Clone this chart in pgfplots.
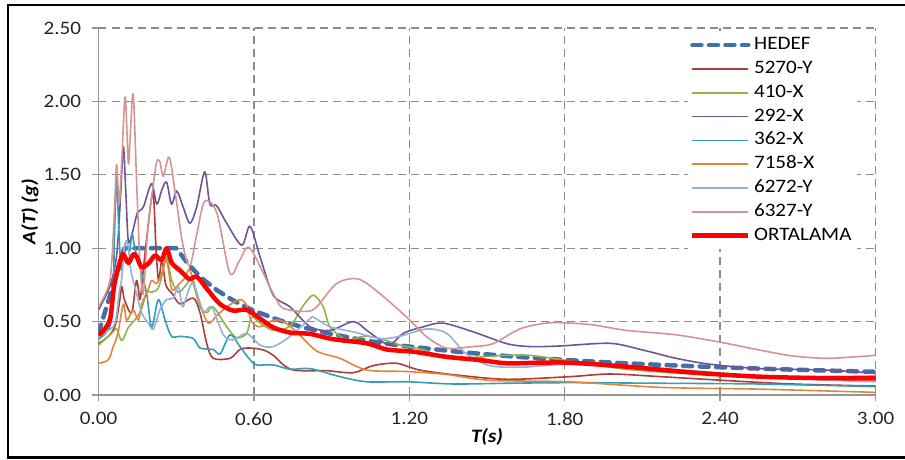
\documentclass[border=0pt]{standalone}
\usepackage{fontspec}
\setmainfont{Carlito}[FakeStretch=1.11]
\usepackage{pgfplots}
\pgfplotsset{compat=1.18}

\definecolor{gridgray}{RGB}{140,140,140}
\definecolor{axgray}{RGB}{150,150,150}
\definecolor{cHedef}{RGB}{68,112,168}
\definecolor{cA}{RGB}{172,62,58}
\definecolor{cB}{RGB}{140,182,72}
\definecolor{cC}{RGB}{112,84,150}
\definecolor{cD}{RGB}{52,158,182}
\definecolor{cE}{RGB}{228,132,56}
\definecolor{cF}{RGB}{150,176,216}
\definecolor{cG}{RGB}{212,148,148}

\newcommand{\fs}{\fontsize{19}{20}\selectfont}

\begin{document}
\begin{tikzpicture}
\useasboundingbox (0pt,0pt) rectangle (905pt,459pt);
\draw[line width=2.4pt, line join=miter] (905pt,454pt) -- (7.8pt,454pt) -- (7.8pt,1.7pt) -- (905pt,1.7pt);
\begin{axis}[
    at={(98.5pt,64pt)}, anchor=south west,
    width=777pt, height=367pt, scale only axis,
    xmin=0, xmax=3, ymin=0, ymax=2.5,
    xtick={0,0.6,1.2,1.8,2.4,3.0},
    ytick={0,0.5,1,1.5,2,2.5},
    axis x line*=bottom, axis y line*=left,
    axis line style={-, draw=axgray, line width=1.3pt},
    tick align=outside, major tick length=6pt, tick pos=left,
    tick style={draw=axgray, line width=1.3pt},
    grid=major,
    major grid style={draw=gridgray, line width=1.3pt, dash pattern=on 8pt off 5pt},
    ticklabel style={font=\fs, text=black!85},
    /pgf/number format/assume math mode=true,
    xticklabel style={/pgf/number format/.cd, fixed, fixed zerofill, precision=2, /tikz/.cd, yshift=-8pt},
    yticklabel style={/pgf/number format/.cd, fixed, fixed zerofill, precision=2, /tikz/.cd, xshift=-8pt},
    xlabel={\textbf{\textit{T(s)}}},
    ylabel={\textbf{\textit{A(T) (g)}}},
    xlabel style={font=\fs, at={(axis description cs:0.5,-0.1144)}, anchor=center},
    ylabel style={font=\fs, at={(axis description cs:-0.0882,0.5)}, anchor=center},
    legend style={at={(axis description cs:0.7587,0.9918)}, anchor=north west,
        draw=none, fill=white, font=\fs, inner xsep=2pt, inner ysep=2pt,
        row sep=0pt, nodes={text height=13pt, text depth=4pt, inner sep=3.4pt, anchor=west}},
    legend cell align=left,
    legend image code/.code={\draw[#1] (0pt,0pt) -- (56pt,0pt);},
    every axis plot/.append style={line join=round},
]
\addplot[cHedef, line width=4.5pt, line cap=round, dash pattern=on 9pt off 7.5pt] coordinates {
(0,0.42)(0.10,1.0)(0.30,1.0)(0.35,0.884)(0.40,0.794)(0.45,0.723)(0.50,0.665)(0.55,0.616)
(0.60,0.574)(0.70,0.508)(0.80,0.456)(0.90,0.415)(1.00,0.381)(1.10,0.352)(1.20,0.330)
(1.40,0.292)(1.60,0.262)(1.80,0.239)(2.00,0.219)(2.20,0.203)(2.40,0.189)(2.60,0.177)
(2.80,0.167)(3.00,0.158)};
\addlegendentry{HEDEF}

\addplot[cA, line width=1.6pt, smooth] coordinates {
(0,0.35)(0.038,0.40)(0.064,0.47)(0.08,0.62)(0.09,0.74)(0.10,0.65)(0.128,0.56)(0.147,0.78)
(0.16,0.65)(0.17,0.80)(0.185,1.05)(0.21,1.38)(0.222,1.0)(0.232,0.78)(0.245,0.92)(0.26,0.75)
(0.285,0.69)(0.315,0.62)(0.366,0.66)(0.392,0.56)(0.418,0.35)(0.443,0.25)(0.508,0.25)
(0.546,0.31)(0.585,0.32)(0.636,0.307)(0.675,0.27)(0.714,0.205)(0.752,0.17)(0.817,0.165)
(0.88,0.166)(0.984,0.152)(1.06,0.20)(1.15,0.216)(1.24,0.17)(1.383,0.136)(1.576,0.107)
(1.82,0.125)(1.975,0.143)(2.17,0.125)(2.43,0.098)(2.68,0.075)(3.0,0.061)};
\addlegendentry{5270-Y}

\addplot[cB, line width=1.6pt, smooth] coordinates {
(0,0.34)(0.051,0.42)(0.07,0.45)(0.09,0.37)(0.115,0.46)(0.14,0.51)(0.165,0.58)(0.186,0.70)
(0.205,0.70)(0.231,0.73)(0.25,0.85)(0.263,0.94)(0.283,0.78)(0.308,0.70)(0.334,0.74)
(0.36,0.78)(0.392,0.60)(0.418,0.56)(0.443,0.60)(0.495,0.465)(0.533,0.39)(0.572,0.42)
(0.591,0.53)(0.624,0.49)(0.675,0.44)(0.74,0.47)(0.791,0.61)(0.83,0.68)(0.868,0.60)
(0.894,0.465)(0.958,0.375)(1.023,0.40)(1.087,0.385)(1.164,0.34)(1.255,0.307)(1.344,0.25)
(1.447,0.256)(1.576,0.27)(1.666,0.27)(1.82,0.232)(2.04,0.175)(2.30,0.143)(2.55,0.125)
(2.8,0.125)(3.0,0.13)};
\addlegendentry{410-X}

\addplot[cC, line width=1.6pt, smooth] coordinates {
(0,0.58)(0.044,0.74)(0.07,0.95)(0.085,1.35)(0.096,1.69)(0.105,1.40)(0.115,1.05)(0.13,1.10)
(0.15,1.24)(0.173,1.28)(0.205,1.44)(0.225,1.30)(0.245,1.40)(0.263,1.45)(0.282,1.30)
(0.302,1.39)(0.327,1.28)(0.353,1.17)(0.379,1.28)(0.41,1.52)(0.43,1.30)(0.456,1.29)
(0.495,1.17)(0.553,1.02)(0.585,1.15)(0.624,0.94)(0.675,0.68)(0.74,0.60)(0.817,0.465)
(0.894,0.44)(0.984,0.50)(1.036,0.44)(1.087,0.375)(1.126,0.34)(1.177,0.42)(1.255,0.465)
(1.33,0.49)(1.447,0.43)(1.576,0.35)(1.666,0.33)(1.782,0.334)(1.975,0.352)(2.10,0.307)
(2.23,0.25)(2.36,0.21)(2.55,0.18)(2.81,0.17)(3.0,0.148)};
\addlegendentry{292-X}

\addplot[cD, line width=1.6pt, smooth] coordinates {
(0,0.38)(0.04,0.45)(0.055,0.60)(0.062,1.10)(0.07,1.47)(0.078,1.15)(0.088,0.85)(0.10,1.0)
(0.11,1.05)(0.12,0.98)(0.13,1.10)(0.14,1.0)(0.16,0.87)(0.186,0.69)(0.205,0.46)(0.231,0.65)
(0.257,0.51)(0.282,0.40)(0.315,0.40)(0.366,0.385)(0.392,0.32)(0.443,0.31)(0.47,0.28)
(0.508,0.41)(0.546,0.33)(0.585,0.24)(0.611,0.205)(0.675,0.205)(0.74,0.175)(0.817,0.18)
(0.932,0.125)(1.036,0.09)(1.19,0.09)(1.37,0.075)(1.576,0.08)(1.82,0.084)(2.17,0.08)
(2.55,0.075)(3.0,0.057)};
\addlegendentry{362-X}

\addplot[cE, line width=1.6pt, smooth] coordinates {
(0,0.216)(0.038,0.24)(0.057,0.33)(0.075,0.42)(0.096,0.62)(0.109,0.51)(0.134,0.58)
(0.154,0.51)(0.167,0.62)(0.192,0.72)(0.205,0.78)(0.225,0.76)(0.244,0.83)(0.263,0.92)
(0.283,0.72)(0.308,0.75)(0.335,0.80)(0.353,0.85)(0.392,0.62)(0.424,0.49)(0.456,0.54)
(0.495,0.60)(0.546,0.65)(0.572,0.61)(0.591,0.50)(0.624,0.465)(0.675,0.51)(0.714,0.50)
(0.765,0.43)(0.842,0.30)(0.932,0.25)(1.036,0.17)(1.19,0.16)(1.344,0.14)(1.511,0.10)
(1.82,0.09)(2.17,0.052)(2.55,0.04)(3.0,0.018)};
\addlegendentry{7158-X}

\addplot[cF, line width=1.6pt, smooth] coordinates {
(0,0.40)(0.03,0.43)(0.064,0.49)(0.08,0.70)(0.09,0.80)(0.10,1.01)(0.112,1.04)(0.125,0.85)
(0.14,0.74)(0.167,0.56)(0.192,0.49)(0.212,0.45)(0.237,0.58)(0.263,0.65)(0.289,0.66)
(0.308,0.74)(0.325,0.60)(0.345,0.70)(0.366,0.76)(0.405,0.57)(0.437,0.60)(0.482,0.41)
(0.52,0.375)(0.572,0.42)(0.624,0.34)(0.675,0.33)(0.74,0.40)(0.817,0.52)(0.83,0.53)
(0.894,0.465)(0.984,0.43)(1.087,0.385)(1.164,0.40)(1.267,0.45)(1.344,0.42)(1.42,0.28)
(1.511,0.20)(1.64,0.19)(1.82,0.21)(2.1,0.19)(2.4,0.15)(2.7,0.11)(3.0,0.09)};
\addlegendentry{6272-Y}

\addplot[cG, line width=1.6pt, smooth] coordinates {
(0,0.60)(0.044,0.78)(0.06,1.20)(0.07,1.57)(0.08,1.30)(0.09,1.60)(0.103,2.03)(0.115,1.58)
(0.122,1.75)(0.134,2.05)(0.147,1.46)(0.16,0.90)(0.173,0.69)(0.19,1.12)(0.212,1.44)
(0.225,1.59)(0.237,1.59)(0.25,1.49)(0.27,1.62)(0.282,1.55)(0.30,1.33)(0.327,1.01)
(0.353,0.88)(0.38,1.10)(0.41,1.32)(0.457,1.24)(0.507,0.83)(0.546,0.92)(0.585,1.0)
(0.675,0.69)(0.714,0.59)(0.804,0.57)(0.842,0.60)(0.92,0.76)(1.003,0.79)(1.087,0.69)
(1.19,0.53)(1.267,0.397)(1.344,0.32)(1.447,0.33)(1.524,0.35)(1.627,0.45)(1.73,0.49)
(1.82,0.49)(1.91,0.477)(2.04,0.44)(2.23,0.41)(2.40,0.36)(2.55,0.307)(2.68,0.266)
(2.81,0.25)(2.92,0.26)(3.0,0.27)};
\addlegendentry{6327-Y}

\addplot[red, line width=4.5pt, smooth] coordinates {
(0,0.41)(0.02,0.44)(0.045,0.52)(0.06,0.74)(0.08,0.89)(0.095,0.96)(0.115,0.90)(0.135,0.96)
(0.148,0.94)(0.167,0.87)(0.195,0.90)(0.218,0.95)(0.244,0.92)(0.263,1.00)(0.283,0.90)
(0.32,0.84)(0.35,0.79)(0.38,0.805)(0.42,0.72)(0.469,0.62)(0.52,0.575)(0.572,0.58)
(0.624,0.52)(0.675,0.46)(0.74,0.425)(0.817,0.416)(0.907,0.38)(1.036,0.352)(1.113,0.31)
(1.216,0.295)(1.344,0.26)(1.473,0.238)(1.576,0.216)(1.70,0.22)(1.82,0.22)(2.04,0.193)
(2.30,0.152)(2.55,0.125)(2.80,0.115)(3.0,0.114)};
\addlegendentry{ORTALAMA}
\end{axis}
\end{tikzpicture}
\end{document}
